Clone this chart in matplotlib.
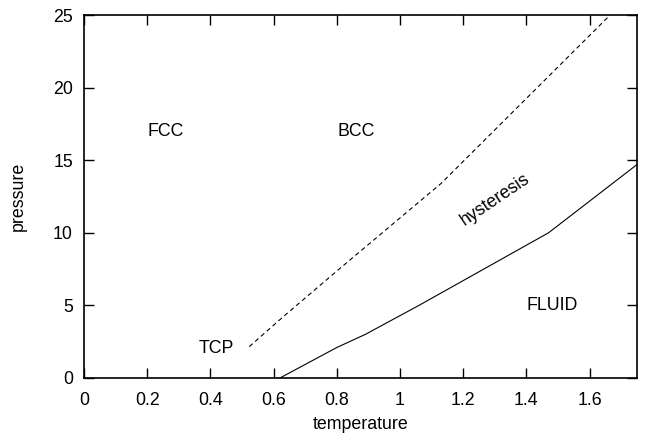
import matplotlib
matplotlib.use("Agg")
import matplotlib.pyplot as plt

# Solid line: melting (fluid boundary)
melt_T = [0.62, 0.80, 0.89, 1.06, 1.47, 1.75]
melt_P = [0.0, 2.1, 3.0, 5.0, 10.0, 14.7]

# Dashed line: hysteresis upper boundary
hyst_T = [0.523, 0.631, 0.81, 1.13, 1.665]
hyst_P = [2.16, 4.23, 7.55, 13.4, 25.0]

labels = ["FCC", "BCC", "TCP", "FLUID"]
label_T = [0.26, 0.86, 0.418, 1.483]
label_P = [17.0, 17.0, 2.04, 4.98]

xticks = [0, 0.2, 0.4, 0.6, 0.8, 1.0, 1.2, 1.4, 1.6]
xticklabels = ["0", "0.2", "0.4", "0.6", "0.8", "1", "1.2", "1.4", "1.6"]
yticks = [0, 5, 10, 15, 20, 25]

FS = 12.8
plt.rcParams['font.family'] = ['Liberation Sans', 'DejaVu Sans']
fig = plt.figure(figsize=(6.45, 4.34), dpi=100)
ax = fig.add_axes([84/645, 1-378/434, (637-84)/645, (378-15)/434])

ax.plot(melt_T, melt_P, color='black', lw=0.8, solid_joinstyle='miter')
ax.plot(hyst_T, hyst_P, color='black', lw=0.8, linestyle=(0, (4, 3)))

for s, x, y in zip(labels, label_T, label_P):
    ax.text(x, y, s, ha='center', va='center', fontsize=FS)
ax.text(1.30, 12.3, "hysteresis", ha='center', va='center', fontsize=FS, rotation=34)

ax.set_xlim(0, 1.75)
ax.set_ylim(0, 25)
ax.set_xticks(xticks)
ax.set_xticklabels(xticklabels)
ax.set_yticks(yticks)
ax.tick_params(direction='in', length=7, width=1, top=True, right=True, labelsize=FS, pad=8)
ax.tick_params(axis='x', pad=10)
for sp in ax.spines.values():
    sp.set_linewidth(1.2)

ax.set_xlabel("temperature", fontsize=FS, labelpad=5)
ax.set_ylabel("pressure", fontsize=FS, labelpad=19)

fig.savefig("out.png", dpi=100)
